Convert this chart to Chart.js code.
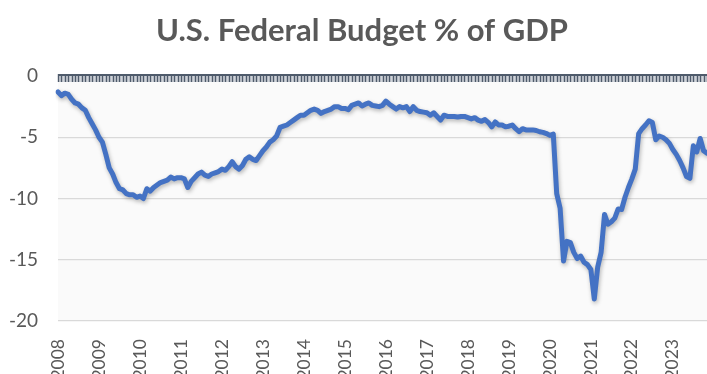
<!DOCTYPE html>
<html>
<head>
<meta charset="utf-8">
<script src="https://cdn.jsdelivr.net/npm/chart.js@4/dist/chart.umd.min.js"></script>
<style>
  html, body { margin: 0; padding: 0; background: #ffffff; }
  #wrap { width: 707px; height: 374px; }
</style>
</head>
<body>
<div id="wrap"><canvas id="budget" width="707" height="374"></canvas></div>
<script>
// Federal budget balance as % of GDP, monthly from Jan 2008
const chartTitle = 'U.S. Federal Budget % of GDP';

const years = ['2008','2009','2010','2011','2012','2013','2014','2015',
               '2016','2017','2018','2019','2020','2021','2022','2023'];

const v2008 = [-1.3, -1.6, -1.4, -1.5, -1.9, -2.2, -2.3, -2.6, -2.8, -3.4, -3.9, -4.4];
const v2009 = [-5.0, -5.4, -6.4, -7.5, -8.0, -8.7, -9.2, -9.3, -9.6, -9.7, -9.7, -9.9];
const v2010 = [-9.8, -10.0, -9.2, -9.4, -9.1, -8.9, -8.7, -8.6, -8.5, -8.25, -8.4, -8.3];
const v2011 = [-8.3, -8.4, -9.1, -8.6, -8.3, -8.0, -7.85, -8.1, -8.2, -8.0, -7.9, -7.8];
const v2012 = [-7.6, -7.7, -7.4, -7.0, -7.4, -7.6, -7.3, -6.8, -6.6, -6.8, -6.9, -6.5];
const v2013 = [-6.1, -5.8, -5.4, -5.2, -4.9, -4.2, -4.1, -4.0, -3.8, -3.6, -3.4, -3.2];
const v2014 = [-3.2, -3.0, -2.8, -2.7, -2.8, -3.05, -2.9, -2.8, -2.7, -2.5, -2.5, -2.65];
const v2015 = [-2.65, -2.75, -2.4, -2.3, -2.2, -2.45, -2.3, -2.2, -2.4, -2.45, -2.5, -2.4];
const v2016 = [-2.05, -2.3, -2.5, -2.7, -2.5, -2.6, -2.5, -2.9, -2.5, -2.8, -2.9, -2.95];
const v2017 = [-3.0, -3.2, -3.0, -3.3, -3.6, -3.2, -3.3, -3.3, -3.3, -3.35, -3.3, -3.3];
const v2018 = [-3.4, -3.5, -3.4, -3.6, -3.7, -3.55, -3.8, -4.15, -3.75, -4.0, -4.0, -4.15];
const v2019 = [-4.1, -4.0, -4.3, -4.55, -4.3, -4.4, -4.4, -4.4, -4.45, -4.55, -4.6, -4.7];
const v2020 = [-4.85, -4.75, -9.6, -10.8, -15.1, -13.5, -13.6, -14.4, -14.9, -14.7, -15.2, -15.4];
const v2021 = [-15.8, -18.2, -15.6, -14.4, -11.3, -12.1, -11.9, -11.6, -10.85, -10.9, -9.9, -9.1];
const v2022 = [-8.4, -7.6, -4.7, -4.3, -4.0, -3.65, -3.8, -5.2, -4.9, -5.0, -5.2, -5.5];
const v2023 = [-6.0, -6.4, -6.9, -7.5, -8.2, -8.35, -5.7, -6.2, -5.1, -6.1, -6.3];

const yTicks = [0, -5, -10, -15, -20];

const budgetPct = [].concat(v2008, v2009, v2010, v2011, v2012, v2013, v2014, v2015,
                            v2016, v2017, v2018, v2019, v2020, v2021, v2022, v2023);

// one category per month; only January carries the year label
const monthLabels = [];
years.forEach(y => {
  for (let m = 0; m < 12; m++) monthLabels.push(m === 0 ? y : '');
});
monthLabels.length = budgetPct.length;

const TEXT = '#595959';

// heading, set slightly right of the canvas centre
const heading = {
  id: 'heading',
  afterDraw(chart) {
    const ctx = chart.ctx;
    ctx.save();
    ctx.fillStyle = TEXT;
    ctx.font = 'bold 31px Lato';
    ctx.textAlign = 'center';
    ctx.textBaseline = 'middle';
    ctx.fillText(chartTitle, chart.width / 2 + 8.5, 31);
    ctx.restore();
  }
};

// light plot-area fill behind the series
const plotFill = {
  id: 'plotFill',
  beforeDraw(chart) {
    const { ctx, chartArea: a } = chart;
    ctx.save();
    ctx.fillStyle = '#fafafa';
    ctx.fillRect(a.left, a.top, a.right - a.left, a.bottom - a.top);
    ctx.restore();
  }
};

// category axis drawn across the zero line with a mark for every month
const zeroAxis = {
  id: 'zeroAxis',
  afterDatasetsDraw(chart) {
    const { ctx, chartArea: a } = chart;
    const xs = chart.scales.x, ys = chart.scales.y;
    const y0 = ys.getPixelForValue(0);
    ctx.save();
    ctx.fillStyle = '#cfd3d9';
    ctx.fillRect(a.left, y0 - 2, a.right - a.left, 8);
    ctx.strokeStyle = '#4f5b6b';
    ctx.lineWidth = 1.4;
    ctx.beginPath();
    for (let i = 0; i < monthLabels.length; i++) {
      const x = Math.round(xs.getPixelForValue(i)) + 0.5;
      ctx.moveTo(x, y0 - 2);
      ctx.lineTo(x, y0 + 6);
    }
    ctx.stroke();
    ctx.lineWidth = 2;
    ctx.beginPath();
    ctx.moveTo(a.left, y0 - 1);
    ctx.lineTo(a.right, y0 - 1);
    ctx.stroke();
    ctx.restore();
  }
};

// soft drop shadow under the line
const lineShadow = {
  id: 'lineShadow',
  beforeDatasetDraw(chart) {
    const ctx = chart.ctx;
    ctx.save();
    ctx.shadowColor = 'rgba(0,0,0,0.28)';
    ctx.shadowBlur = 4;
    ctx.shadowOffsetX = 1;
    ctx.shadowOffsetY = 2;
  },
  afterDatasetDraw(chart) {
    chart.ctx.restore();
  }
};

new Chart(document.getElementById('budget'), {
  type: 'line',
  data: {
    labels: monthLabels,
    datasets: [{
      label: chartTitle,
      data: budgetPct,
      borderColor: '#4472c4',
      borderWidth: 5,
      pointRadius: 0,
      tension: 0,
      fill: false,
      borderJoinStyle: 'round',
      borderCapStyle: 'round'
    }]
  },
  options: {
    responsive: false,
    animation: false,
    events: [],
    layout: { padding: { left: 0, right: 0, top: 76, bottom: 0 } },
    plugins: {
      legend: { display: false },
      tooltip: { enabled: false },
      title: { display: false }
    },
    scales: {
      x: {
        type: 'category',
        offset: false,
        grid: { display: false },
        border: { display: false },
        ticks: {
          autoSkip: false,
          maxRotation: 90,
          minRotation: 90,
          color: TEXT,
          padding: 10,
          font: { family: 'Lato', size: 17.5 }
        },
        afterFit(scale) {
          scale.height = 53;
          scale.paddingLeft = 0;
          scale.paddingRight = 0;
        }
      },
      y: {
        min: -20,
        max: 0,
        afterBuildTicks(scale) { scale.ticks = yTicks.map(v => ({ value: v })); },
        grid: {
          color: ctx => ctx.tick && ctx.tick.value === 0 ? 'rgba(0,0,0,0)' : '#d9d9d9',
          lineWidth: 1.2,
          drawTicks: false
        },
        border: { display: false },
        ticks: {
          color: TEXT,
          padding: 20,
          font: { family: 'Lato', size: 19 }
        },
        afterFit(scale) {
          scale.width = 58;
          scale.paddingTop = 0;
          scale.paddingBottom = 0;
        }
      }
    }
  },
  plugins: [plotFill, lineShadow, zeroAxis, heading]
});
</script>
</body>
</html>
